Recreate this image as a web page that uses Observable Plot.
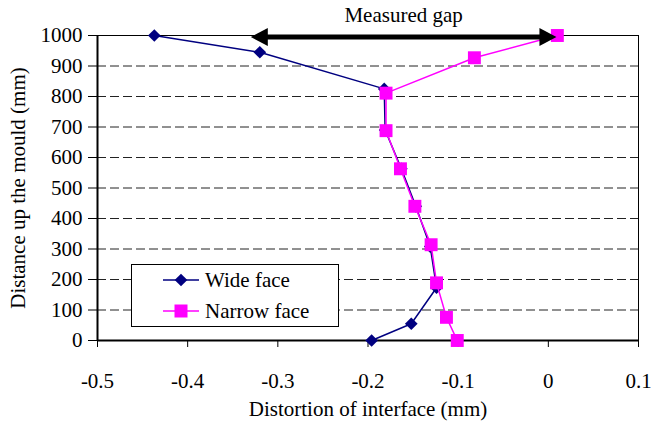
<!DOCTYPE html>
<html><head><meta charset="utf-8">
<script src="https://cdn.jsdelivr.net/npm/d3@7"></script>
<script src="https://cdn.jsdelivr.net/npm/@observablehq/plot@0.6"></script>
<style>
body{margin:0;background:#fff}
#chart{position:relative;width:651px;height:423px;background:#fff}
#legend{position:absolute}
</style></head><body><div id="chart"></div>
<script>
// ---- data ----
const seriesNames = ["Wide face", "Narrow face"];
const wideX = [-0.437, -0.32, -0.182, -0.181, -0.163, -0.147, -0.131, -0.124, -0.152, -0.196];
const wideY = [1000, 945, 825, 690, 563, 440, 308, 173, 55, 0];
const narrowX = [0.01, -0.082, -0.18, -0.18, -0.164, -0.148, -0.13, -0.124, -0.113, -0.101];
const narrowY = [1000, 927, 811, 688, 563, 440, 314, 189, 76, 0];
const xDomain = [-0.5, 0.1];
const yDomain = [0, 1000];
const xTicks = [-0.5, -0.4, -0.3, -0.2, -0.1, 0, 0.1];
const yTicks = [0, 100, 200, 300, 400, 500, 600, 700, 800, 900, 1000];
const gridY = [100, 200, 300, 400, 500, 600, 700, 800, 900];
const gapStart = -0.33, gapEnd = 0.009, gapY = 995;
const gapLabel = "Measured gap";
const xTitle = "Distortion of interface (mm)";
const yTitle = "Distance up the mould (mm)";

// ---- build ----
const wide = wideX.map((x, i) => ({x, y: wideY[i]}));
const narrow = narrowX.map((x, i) => ({x, y: narrowY[i]}));
const gap = [{x1: gapStart, x2: gapEnd, y: gapY}];
const heads = [{x: gapStart, y: gapY, rot: 180}, {x: gapEnd, y: gapY, rot: 0}];
const gapText = [{x: (gapStart + gapEnd) / 2, y: yDomain[1], label: gapLabel}];

const NAVY = "#000080", PINK = "#FF00FF";
const FONT = '"Liberation Serif", "Times New Roman", "DejaVu Serif", serif';
const headSymbol = {draw(ctx) { ctx.moveTo(0, 0); ctx.lineTo(-17, -9); ctx.lineTo(-17, 9); ctx.closePath(); }};
const fmtX = d => (d === 0 ? "0" : String(+d.toFixed(1)));

const plot = Plot.plot({
  width: 651, height: 423,
  marginLeft: 97, marginRight: 13, marginTop: 35, marginBottom: 83,
  style: {fontFamily: FONT, fontSize: "21px", color: "black", background: "white", overflow: "visible"},
  x: {domain: xDomain, ticks: xTicks, tickFormat: fmtX, tickSize: 7, tickPadding: 26, label: null},
  y: {domain: yDomain, ticks: yTicks, tickFormat: d => String(d), tickSize: 9, tickPadding: 6, label: null},
  marks: [
    Plot.ruleY(gridY, {stroke: "#222", strokeDasharray: "9,4", strokeWidth: 1}),
    Plot.frame({stroke: "black", strokeWidth: 1}),
    Plot.ruleX([xDomain[0]], {stroke: "black", strokeWidth: 2}),
    Plot.ruleY([yDomain[0]], {stroke: "black", strokeWidth: 2}),
    Plot.line(wide, {x: "x", y: "y", stroke: NAVY, strokeWidth: 1.5}),
    Plot.dot(wide, {x: "x", y: "y", symbol: "diamond2", r: 5.7, fill: NAVY, stroke: "none"}),
    Plot.line(narrow, {x: "x", y: "y", stroke: PINK, strokeWidth: 1.5}),
    Plot.dot(narrow, {x: "x", y: "y", symbol: "square", r: 7.3, fill: PINK, stroke: "none"}),
    Plot.ruleY(gap, {x1: "x1", x2: "x2", y: "y", stroke: "black", strokeWidth: 5, insetLeft: 12, insetRight: 12}),
    Plot.dot(heads, {x: "x", y: "y", rotate: "rot", symbol: headSymbol, r: 5, fill: "black", stroke: "none"}),
    Plot.text(gapText, {x: "x", y: "y", text: "label", dy: -20, fontSize: 21}),
    Plot.text([xTitle], {frameAnchor: "bottom", dy: 69, lineAnchor: "middle", textAnchor: "middle", fontSize: 21}),
    Plot.text([yTitle], {frameAnchor: "left", dx: -79, rotate: -90, lineAnchor: "middle", textAnchor: "middle", fontSize: 21})
  ]
});
const chart = document.getElementById("chart");
chart.appendChild(plot);

// ---- legend overlay ----
const lg = d3.select(chart).append("div").attr("id", "legend")
  .style("left", "131px").style("top", "264px");
const svg = lg.append("svg").attr("width", 208).attr("height", 63)
  .style("font-family", FONT).style("font-size", "21px");
svg.append("rect").attr("x", 0.5).attr("y", 0.5).attr("width", 207).attr("height", 62)
  .attr("fill", "white").attr("stroke", "black");
const entries = [
  {name: seriesNames[0], color: NAVY, sym: d3.symbol(d3.symbolDiamond2, Math.PI * 5.7 * 5.7), y: 16},
  {name: seriesNames[1], color: PINK, sym: d3.symbol(d3.symbolSquare, 13 * 13), y: 47}
];
for (const e of entries) {
  svg.append("line").attr("x1", 32).attr("x2", 68).attr("y1", e.y).attr("y2", e.y)
    .attr("stroke", e.color).attr("stroke-width", 1.5);
  svg.append("path").attr("d", e.sym()).attr("transform", `translate(50,${e.y})`).attr("fill", e.color);
  svg.append("text").attr("x", 74).attr("y", e.y).attr("dy", "0.35em").text(e.name);
}
</script></body></html>
